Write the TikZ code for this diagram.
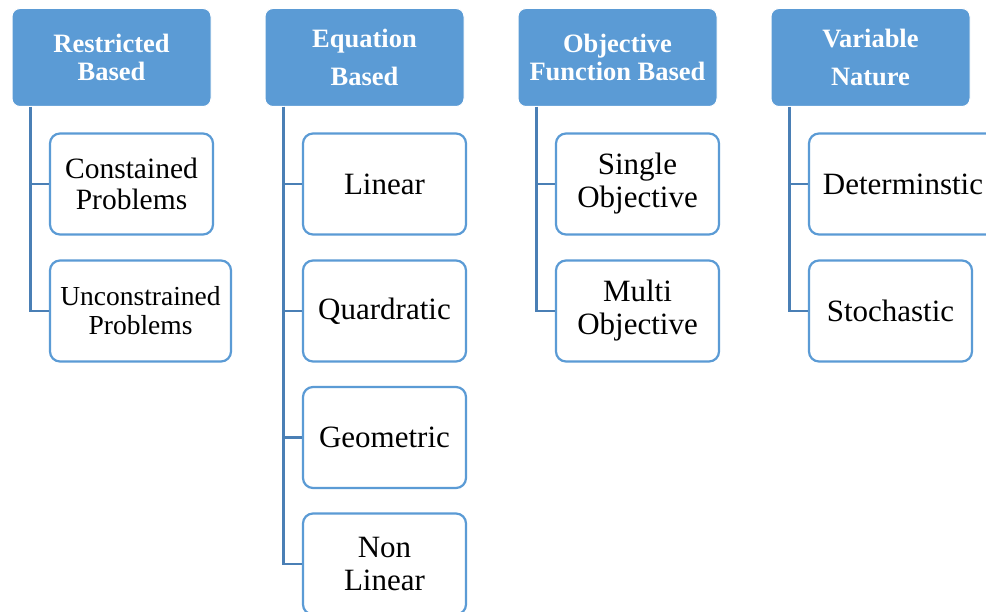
\documentclass[tikz,border=0pt]{standalone}
\usepackage{fontspec}
\setmainfont{Liberation Serif}
\definecolor{hdrblue}{HTML}{5B9BD5}
\definecolor{linkblue}{HTML}{4A7FB5}
\tikzset{
  hdr/.style={draw=white, line width=1pt, fill=hdrblue, rounded corners=8pt,
    minimum width=199pt, minimum height=98pt, align=center, text=white,
    font=\fontsize{26.5}{28}\selectfont\bfseries, inner sep=0pt},
  leaf/.style={draw=hdrblue, line width=2.2pt, fill=white, rounded corners=10pt,
    minimum height=101pt, align=center, text=black,
    font=\fontsize{31}{33}\selectfont, inner sep=0pt},
  conn/.style={draw=linkblue, line width=2.2pt}
}
\begin{document}
\begin{tikzpicture}[x=1pt,y=-1pt]
\clip (0,0) rectangle (986,612);
\fill[white] (0,0) rectangle (986,612);
% headers
\node[hdr] (h1) at (111.5,57.5) {Restricted\\Based};
\node[hdr, font=\fontsize{26.5}{38}\selectfont\bfseries] (h2) at (364.5,57.5) {Equation\\Based};
\node[hdr] (h3) at (617.5,57.5) {Objective\\Function Based};
\node[hdr, font=\fontsize{26.5}{38}\selectfont\bfseries] (h4) at (870.5,57.5) {Variable\\Nature};
% group 1
\node[leaf, minimum width=163pt, font=\fontsize{29.5}{31}\selectfont] (a1) at (131.5,184) {Constained\\Problems};
\node[leaf, minimum width=181pt, font=\fontsize{27.5}{29}\selectfont] (a2) at (140.5,311) {Unconstrained\\Problems};
% group 2
\node[leaf, minimum width=163pt] (b1) at (384.5,184) {Linear};
\node[leaf, minimum width=163pt] (b2) at (384.5,311) {Quardratic};
\node[leaf, minimum width=163pt] (b3) at (384.5,437.5) {Geometric};
\node[leaf, minimum width=163pt] (b4) at (384.5,564) {Non\\Linear};
% group 3
\node[leaf, minimum width=163pt] (c1) at (637.5,184) {Single\\Objective};
\node[leaf, minimum width=163pt] (c2) at (637.5,311) {Multi\\Objective};
% group 4
\node[leaf, minimum width=188pt] (d1) at (903,184) {Determinstic};
\node[leaf, minimum width=163pt] (d2) at (890.5,311) {Stochastic};
% connectors
\draw[conn] ([xshift=19pt]h1.south west) |- (a1.west);
\draw[conn] ([xshift=19pt]h1.south west) |- (a2.west);
\draw[conn] ([xshift=19pt]h2.south west) |- (b1.west);
\draw[conn] ([xshift=19pt]h2.south west) |- (b2.west);
\draw[conn] ([xshift=19pt]h2.south west) |- (b3.west);
\draw[conn] ([xshift=19pt]h2.south west) |- (b4.west);
\draw[conn] ([xshift=19pt]h3.south west) |- (c1.west);
\draw[conn] ([xshift=19pt]h3.south west) |- (c2.west);
\draw[conn] ([xshift=19pt]h4.south west) |- (d1.west);
\draw[conn] ([xshift=19pt]h4.south west) |- (d2.west);
\end{tikzpicture}
\end{document}
